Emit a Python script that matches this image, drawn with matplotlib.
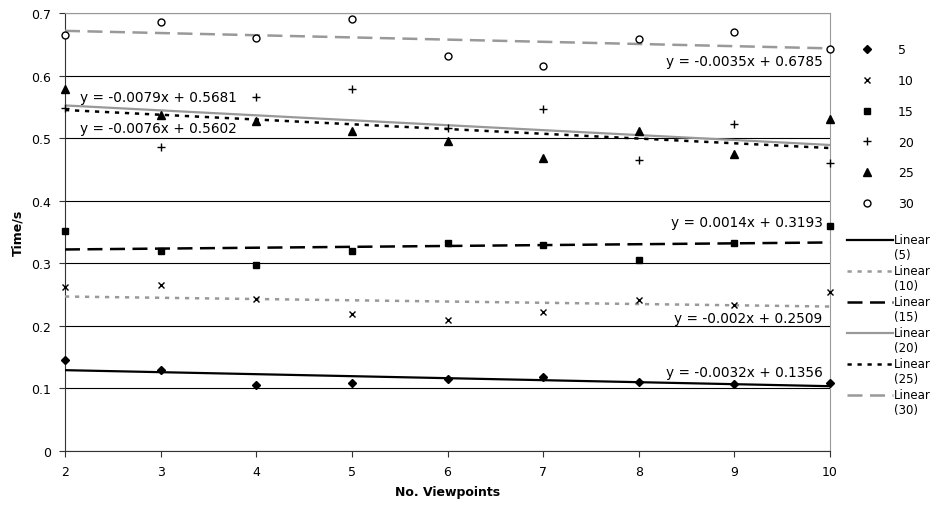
import numpy as np
import matplotlib
matplotlib.use('Agg')
import matplotlib.pyplot as plt
from matplotlib.lines import Line2D
from matplotlib.legend_handler import HandlerLine2D

# ------------------------------ Data -----------------------------------
viewpoints = [2, 3, 4, 5, 6, 7, 8, 9, 10]
series_names = ['5', '10', '15', '20', '25', '30']

t5 = [0.145, 0.130, 0.106, 0.108, 0.115, 0.118, 0.111, 0.107, 0.109]
t10 = [0.262, 0.265, 0.243, 0.219, 0.210, 0.222, 0.242, 0.234, 0.254]
t15 = [0.352, 0.320, 0.298, 0.320, 0.333, 0.329, 0.305, 0.333, 0.360]
t20 = [0.548, 0.486, 0.566, 0.578, 0.517, 0.547, 0.465, 0.523, 0.461]
t25 = [0.578, 0.537, 0.527, 0.512, 0.495, 0.468, 0.512, 0.474, 0.530]
t30 = [0.665, 0.685, 0.660, 0.690, 0.632, 0.616, 0.659, 0.670, 0.643]

# trendline coefficients (slope, intercept) as printed on the chart
slopes = [-0.0032, -0.002, 0.0014, -0.0079, -0.0076, -0.0035]
intercepts = [0.1356, 0.2509, 0.3193, 0.5681, 0.5602, 0.6785]
eq_labels = ['y = -0.0032x + 0.1356', 'y = -0.002x + 0.2509', 'y = 0.0014x + 0.3193',
             'y = -0.0079x + 0.5681', 'y = -0.0076x + 0.5602', 'y = -0.0035x + 0.6785']

# ------------------------------ Styles -----------------------------------
grey = '#999999'
markers = [
    dict(marker='D', ms=4.5, mfc='black', mec='black'),
    dict(marker='x', ms=5, mfc='black', mec='black', mew=1),
    dict(marker='s', ms=5, mfc='black', mec='black'),
    dict(marker='+', ms=5.5, mfc='black', mec='black', mew=1),
    dict(marker='^', ms=5.5, mfc='black', mec='black'),
    dict(marker='o', ms=5, mfc='white', mec='black', mew=1),
]
trend_styles = [
    dict(color='black', lw=1.6, ls='-'),
    dict(color=grey, lw=1.8, ls=(0, (1.7, 2.3))),
    dict(color='black', lw=1.8, ls=(0, (6, 3))),
    dict(color=grey, lw=1.6, ls='-'),
    dict(color='black', lw=1.8, ls=(0, (1.7, 2.3))),
    dict(color=grey, lw=1.8, ls=(0, (6, 3))),
]
# label placement: (x, y, ha)
eq_pos = [(9.92, 0.126, 'right'), (9.92, 0.2125, 'right'), (9.92, 0.366, 'right'),
          (2.157, 0.566, 'left'), (2.157, 0.516, 'left'), (9.92, 0.623, 'right')]


# legend handler that puts the line level with the first text line
class HandlerTopLine(HandlerLine2D):
    def create_artists(self, legend, orig_handle, xdescent, ydescent, width, height,
                       fontsize, trans):
        artists = super().create_artists(legend, orig_handle, xdescent, ydescent,
                                         width, height, fontsize, trans)
        for a in artists:
            a.set_ydata(np.asarray(a.get_ydata()) + fontsize * 0.7)
        return artists


plt.rcParams['font.family'] = 'DejaVu Sans'
plt.rcParams['font.size'] = 9

fig = plt.figure(figsize=(9.39, 5.06), dpi=100)
ax = fig.add_axes([0.0692, 0.1067, 0.8148, 0.8656])

all_series = [t5, t10, t15, t20, t25, t30]
for i, ys in enumerate(all_series):
    ax.plot(viewpoints, ys, ls='none', clip_on=False, zorder=4, **markers[i])

xline = np.array([viewpoints[0], viewpoints[-1]])
for i in range(len(series_names)):
    ax.plot(xline, slopes[i] * xline + intercepts[i], zorder=3, **trend_styles[i])
    x, y, ha = eq_pos[i]
    ax.text(x, y, eq_labels[i], ha=ha, va='center', fontsize=9.8, zorder=5)

ax.set_xlim(2, 10)
ax.set_ylim(0, 0.7)
ax.set_xticks(viewpoints)
ax.set_yticks(np.arange(0, 0.71, 0.1))
ax.set_yticklabels(['0', '0.1', '0.2', '0.3', '0.4', '0.5', '0.6', '0.7'])
ax.grid(axis='y', color='black', lw=0.8)
ax.set_axisbelow(True)
ax.tick_params(direction='out', length=4, width=0.8, colors='#333333', labelcolor='black',
               labelsize=9, pad=6)
for s in ['left', 'bottom']:
    ax.spines[s].set_color('#333333')
for s in ['top', 'right']:
    ax.spines[s].set_color(grey)
ax.set_xlabel('No. Viewpoints', fontweight='bold', fontsize=9, labelpad=5)
ax.set_ylabel('Time/s', fontweight='bold', fontsize=9, labelpad=5)

# ------------------------------ Legends -----------------------------------
mk_handles = [Line2D([], [], ls='none', **m) for m in markers]
fig.legend(mk_handles, series_names, loc='upper left', bbox_to_anchor=(0.903, 0.922),
           frameon=False, fontsize=9, handlelength=2.2, handletextpad=1.4,
           labelspacing=1.42, borderaxespad=0)
ln_handles = [Line2D([], [], **s) for s in trend_styles]
ln_labels = ['Linear\n(%s)' % n for n in series_names]
fig.legend(ln_handles, ln_labels, loc='upper left', bbox_to_anchor=(0.897, 0.546),
           frameon=False, fontsize=8.5, handlelength=3.9, handletextpad=0.1,
           labelspacing=0.25, borderaxespad=0,
           handler_map={Line2D: HandlerTopLine()})

fig.savefig('out.png', dpi=100)
